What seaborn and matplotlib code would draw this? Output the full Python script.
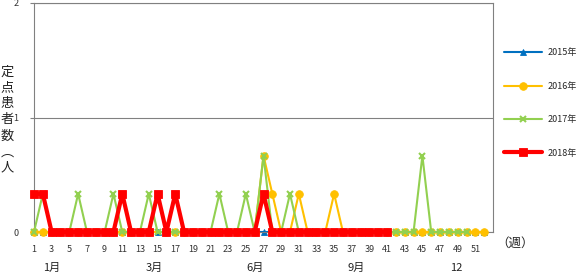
import numpy as np
import pandas as pd
import matplotlib
matplotlib.use("Agg")
import matplotlib.pyplot as plt
import seaborn as sns
from matplotlib.lines import Line2D

weeks = list(range(1, 53))
t = 1 / 3
tt = 2 / 3
nan = np.nan

y2015 = [0.0] * 52

y2016 = [0, 0, 0, 0, 0, 0, 0, 0, 0, 0, 0, 0, 0, 0, nan, 0, 0, 0, 0, 0,
         0, 0, 0, 0, 0, 0, tt, t, 0, 0, t, 0, 0, 0, t, 0, 0, 0, 0, 0,
         0, 0, 0, 0, 0, 0, 0, 0, 0, 0, 0, 0]

y2017 = [0, t, 0, 0, 0, t, 0, 0, 0, t, 0, 0, 0, t, 0, 0, 0, 0, 0, 0,
         0, t, 0, 0, t, 0, tt, 0, 0, t, 0, 0, 0, 0, 0, 0, 0, 0, 0, 0,
         0, 0, 0, 0, tt, 0, 0, 0, 0, 0, nan, nan]

y2018 = [t, t, 0, 0, 0, 0, 0, 0, 0, 0, t, 0, 0, 0, t, 0, t, 0, 0, 0,
         0, 0, 0, 0, 0, 0, t, 0, 0, 0, 0, 0, 0, 0, 0, 0, 0, 0, 0, 0,
         0] + [nan] * 11

series_names = ["2015年", "2016年", "2017年", "2018年"]
xtick_vals = list(range(1, 52, 2))
month_labels = ["1月", "3月", "6月", "9月", "12"]
month_x_px = [52, 154, 255, 356, 456]

colors = ["#0070C0", "#FFC000", "#92D050", "#FF0000"]
markers = ["^", "o", "x", "s"]
lws = [1.5, 1.5, 1.5, 3.0]
msizes = [4.5, 5.5, 5, 5.5]
mews = [0.6, 0.6, 1.5, 0.6]

sns.set_theme(style="white")
plt.rcParams["font.family"] = ["Noto Sans CJK JP", "DejaVu Sans"]

fig = plt.figure(figsize=(5.81, 2.73), dpi=100)
ax = fig.add_axes([34 / 581, 1 - 232 / 273, (493 - 34) / 581, (232 - 3) / 273])

data = [y2015, y2016, y2017, y2018]
for i, (name, ys) in enumerate(zip(series_names, data)):
    df = pd.DataFrame({"week": weeks, "value": ys})
    sns.lineplot(data=df, x="week", y="value", ax=ax, color=colors[i],
                 marker=markers[i], markersize=msizes[i], linewidth=lws[i],
                 markeredgecolor=colors[i], markeredgewidth=mews[i],
                 zorder=2 + i, clip_on=False, legend=False)

ax.set_xlim(1, 53)
ax.set_ylim(0, 2)
ax.set_xticks(xtick_vals)
ax.set_xticklabels([str(v) for v in xtick_vals], fontsize=6.5, color="#333333")
ax.set_yticks([0, 1, 2])
ax.set_yticklabels(["0", "1", "2"], fontsize=6.5, color="#333333")
ax.tick_params(axis="x", length=0, pad=9)
ax.tick_params(axis="y", length=3, width=0.8, color="#808080", pad=8, direction="out", left=True)
ax.grid(axis="y", color="#808080", linewidth=0.8)
ax.set_xlabel("")
ax.set_ylabel("")
for s in ax.spines.values():
    s.set_color("#808080")
    s.set_linewidth(0.8)

# y label stacked vertically
ylab_chars = ["定", "点", "患", "者", "数", "︵", "人"]
fig.text(7 / 581, 1 - 120 / 273, "\n".join(ylab_chars), fontsize=9.5,
         ha="center", va="center", linespacing=1.3, color="#222222")

for lab, px in zip(month_labels, month_x_px):
    fig.text(px / 581, 1 - 268 / 273, lab, fontsize=8, ha="center", va="center",
             color="#222222")

fig.text(496 / 581, 1 - 243 / 273, "（週）", fontsize=9, ha="left", va="center",
         color="#222222")

handles = [Line2D([0], [0], color=colors[i], marker=markers[i], linewidth=lws[i],
                  markersize=msizes[i], markeredgecolor=colors[i],
                  markeredgewidth=mews[i]) for i in range(4)]
fig.legend(handles, series_names, loc="center left",
           bbox_to_anchor=(504 / 581, 1 - 103 / 273), frameon=False,
           fontsize=6.5, handlelength=4.2, handletextpad=0.6,
           labelspacing=2.7, borderpad=0, borderaxespad=0)

fig.savefig("out.png", dpi=100)
